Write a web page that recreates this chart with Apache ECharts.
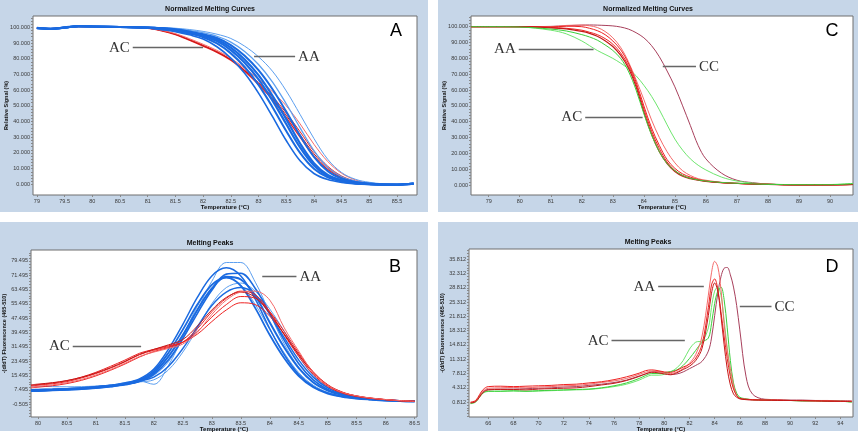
<!DOCTYPE html>
<html>
<head>
<meta charset="utf-8">
<script src="https://cdn.jsdelivr.net/npm/echarts@6/dist/echarts.min.js"></script>
<style>
  html, body { margin: 0; padding: 0; background: #fff; }
  #chart { width: 860px; height: 436px; }
</style>
</head>
<body>
<div id="chart"></div>
<script>
// ---- panel A: normalized melting curves (AA blue, AC red) ----
const tA = [79, 79.25, 79.5, 79.75, 80, 80.5, 81, 81.25, 81.5, 81.75, 82, 82.25, 82.5, 82.75, 83, 83.25, 83.5, 83.75, 84, 84.25, 84.5, 84.75, 85, 85.25, 85.5, 85.8]
const blueA1 = [99.4, 98.9, 99.7, 100.6, 100.5, 100.2, 99.6, 98.5, 97.2, 95.2, 92.6, 87.6, 80.4, 70.7, 58.1, 43.3, 27.9, 15, 6.9, 3, 1.2, 0.3, 0, -0.3, -0.2, 0.4]
const blueA2 = [99.5, 99.1, 99.8, 100.7, 100.5, 100.2, 99.7, 98.9, 97.7, 96, 93.7, 89.7, 83.4, 74.7, 63.3, 49.3, 34, 20, 9.9, 4.4, 1.8, 0.6, 0, -0.2, -0.2, 0.5]
const blueA3 = [99.6, 99.0, 99.9, 100.8, 100.6, 100.2, 99.8, 99.2, 98.2, 96.6, 94.5, 91.2, 85.5, 77.5, 66.9, 53.5, 38.4, 23.5, 12, 5.3, 2.3, 0.8, 0.1, -0.2, -0.2, 0.5]
const blueA4 = [99.5, 99.0, 99.8, 100.7, 100.5, 100.2, 99.8, 99.3, 98.4, 97, 95, 92.3, 87, 79.5, 69.5, 56.5, 41.5, 26, 13.5, 6, 2.6, 1, 0.2, -0.2, -0.2, 0.5]
const blueA5 = [99.5, 99.0, 99.8, 100.6, 100.5, 100.2, 99.8, 99.5, 98.7, 97.4, 95.6, 93.2, 88.7, 81.9, 72.7, 60.7, 46.3, 31, 17.5, 8.4, 3.7, 1.5, 0.5, 0, -0.2, 0.5]
const blueA6 = [99.6, 99.1, 99.8, 100.7, 100.5, 100.3, 99.9, 99.7, 99.1, 98, 96.5, 94.3, 90.6, 84.6, 76.3, 65.3, 51.3, 36, 21.5, 10.8, 4.8, 2.1, 0.8, 0.1, -0.2, 0.5]
const blueA7 = [99.6, 99.1, 99.9, 100.7, 100.6, 100.3, 100, 99.8, 99.4, 98.6, 97.4, 95.6, 92.9, 88, 81.2, 72.1, 59.5, 44.5, 29.2, 15.9, 7.5, 3.2, 1.3, 0.3, -0.1, 0.5]
const redA1 = [99.5, 99.2, 99.8, 100.5, 100.4, 100.2, 99.4, 97.8, 95.3, 91.8, 88, 84, 79, 72, 63.5, 54, 42.5, 30, 18, 9.5, 4.3, 1.6, 0.3, -0.2, -0.2, 0.5]
const redA2 = [99.4, 99.1, 99.8, 100.5, 100.4, 100.2, 99.5, 98, 95.7, 92.3, 88.6, 84.6, 79.6, 72.8, 64.8, 56, 45.5, 33.5, 21, 11.5, 5.3, 2, 0.4, -0.2, -0.2, 0.5]
const redA3 = [99.5, 99.2, 99.8, 100.5, 100.4, 100.2, 99.5, 98.1, 96, 92.8, 89.2, 85.3, 80.4, 73.8, 67, 59, 50, 38.5, 25.5, 14.5, 7, 2.8, 0.6, -0.1, -0.2, 0.5]
const redA4 = [99.5, 99.1, 99.8, 100.5, 100.4, 100.2, 99.4, 97.9, 95.5, 92, 88.3, 84.3, 79.3, 72.4, 64, 55, 44, 31.5, 19.5, 10.5, 4.8, 1.8, 0.3, -0.2, -0.2, 0.5]

// ---- panel B: melting peaks (AA blue, AC red) ----
const tB = [79.88, 80, 80.25, 80.5, 80.75, 81, 81.25, 81.5, 81.75, 82, 82.25, 82.5, 82.75, 83, 83.25, 83.5, 83.75, 84, 84.25, 84.5, 84.75, 85, 85.25, 85.5, 85.75, 86, 86.25, 86.5]
const blueB1 = [7.2, 7.3, 7.6, 8, 8.5, 9.2, 10, 11.2, 13.5, 19, 30, 44, 59, 71, 75.5, 71, 58, 41.5, 27, 16, 9.3, 5.6, 3.7, 2.6, 2, 1.5, 1.2, 1]
const blueB2 = [6.8, 6.9, 7.1, 7.4, 7.8, 8.4, 9.2, 10.3, 12, 15.5, 23, 36, 52, 68, 78.5, 78.5, 67.5, 50, 33, 20, 11.8, 7, 4.5, 3, 2.2, 1.6, 1.2, 1]
const blueB3 = [7, 7.1, 7.3, 7.6, 8, 8.6, 9.4, 10.5, 12.5, 17, 26, 38, 52, 64, 70.5, 69, 60, 45, 31, 19.5, 11.5, 7, 4.5, 3, 2.2, 1.6, 1.2, 1]
const blueB4 = [7.5, 7.6, 7.8, 8.1, 8.5, 9, 9.8, 10.8, 12.3, 14.5, 20.5, 30.5, 42.5, 54.5, 62, 64.5, 60.5, 49.5, 36.5, 24, 14.5, 8.5, 5.2, 3.4, 2.4, 1.7, 1.3, 1]
const blueB5 = [6.6, 6.7, 7, 7.3, 7.7, 8.3, 9.1, 10.2, 12, 16, 24, 36, 50, 63, 72, 72.5, 64, 50, 35, 22, 13, 7.6, 4.8, 3.2, 2.3, 1.7, 1.3, 1]
const blueB6 = [7, 7.1, 7.3, 7.6, 8.1, 8.8, 9.8, 11.5, 12.3, 10.5, 21, 37, 54, 66, 70, 66, 55, 41, 28, 17, 10, 6, 4, 2.8, 2.1, 1.6, 1.2, 1]
const blueB7 = [9.5, 9.4, 9.2, 9.1, 9.2, 9.5, 10, 10.8, 11.8, 13, 18.5, 28.5, 41.5, 55.5, 64.5, 67, 62.5, 52.5, 40, 26, 15.5, 8.8, 5.2, 3.4, 2.4, 1.7, 1.3, 1]
const blueB8 = [7.3, 7.4, 7.6, 7.9, 8.3, 8.9, 9.7, 10.9, 13, 18, 28, 41, 55, 66, 70, 65.5, 53, 38, 25, 15, 8.8, 5.3, 3.5, 2.5, 1.9, 1.4, 1.1, 0.9]
const redB1 = [9.5, 10, 10.8, 12, 14, 16.5, 19.5, 23, 27, 29.5, 31.5, 34, 40, 48, 55, 59.5, 58.5, 51, 40, 28, 17.5, 10.3, 6.2, 4, 2.8, 2, 1.4, 1]
const redB2 = [8.5, 8.9, 9.7, 10.9, 12.7, 15.2, 18.3, 21.8, 25.7, 28.8, 31, 34, 41.5, 51, 58.5, 62.5, 60.5, 51, 38, 26, 16, 9.3, 5.6, 3.7, 2.6, 1.9, 1.3, 1]
const redB3 = [9.8, 10.3, 11.2, 12.5, 14.5, 17.2, 20.5, 24, 27.8, 30, 32, 34, 38.5, 45.5, 52, 56, 55, 48.5, 38.5, 27, 17, 10, 6, 3.9, 2.7, 1.9, 1.3, 1]
const redB4 = [9, 9.4, 10.2, 11.4, 13.2, 15.7, 18.7, 22.2, 26, 28.5, 30.5, 33, 39.5, 49.5, 57.5, 62, 62.5, 57.5, 42, 29, 17, 10, 6, 4, 2.8, 2, 1.4, 1]
const redB5 = [10.2, 10.6, 11.4, 12.6, 14.4, 16.8, 19.8, 23.3, 27.2, 30, 32.5, 35.5, 43, 52, 59, 62, 59, 50, 38.5, 27, 17, 10, 6, 3.9, 2.7, 1.9, 1.3, 1]

// ---- panel C: normalized melting curves (AA green, AC red, CC maroon) ----
const tC = [78.43, 79, 80, 81, 81.5, 82, 82.25, 82.5, 82.75, 83, 83.25, 83.5, 83.75, 84, 84.25, 84.5, 84.75, 85, 85.25, 85.5, 85.75, 86, 86.5, 87, 87.5, 88, 89, 90, 90.74]
const ccC = [100, 100, 100, 100.2, 100.6, 101, 101.1, 101, 100.8, 100.5, 99.8, 98.5, 96.2, 93, 88, 81, 72, 62, 50, 37.5, 25, 16.5, 7.5, 3, 1.5, 0.6, 0.1, 0.1, 0.3]
const redC1 = [100, 100, 100, 99.3, 98.6, 97, 95.8, 94, 91.2, 87.5, 82, 74, 62, 46, 32, 21, 13.5, 8.5, 5.5, 4, 3, 2.3, 1.5, 1, 0.6, 0.4, 0.1, 0.1, 0.3]
const redC2 = [100, 100, 100, 99.8, 100.3, 100, 99, 97.5, 95, 91, 85.5, 77, 65, 50, 36, 25, 16, 10.5, 7, 5, 3.5, 2.5, 1.5, 1, 0.6, 0.4, 0.1, 0.1, 0.3]
const redC3 = [100, 100, 100, 100, 100.8, 101, 100.6, 99.5, 97, 93, 87, 78, 66.5, 54, 41, 30, 21, 14, 9, 6, 4, 3, 1.7, 1, 0.6, 0.4, 0.1, 0.1, 0.3]
const redC4 = [100, 100, 100, 99.5, 99, 97.8, 96.5, 95, 92.5, 89, 83.5, 75.5, 63.5, 48, 34, 23, 14.5, 9.2, 6, 4.3, 3.2, 2.4, 1.5, 1, 0.6, 0.4, 0.1, 0.1, 0.3]
const greenC1 = [100, 100, 99.8, 97.8, 95.5, 91, 88, 85, 82.5, 80, 77, 73.5, 69, 63, 56, 47.5, 38, 29, 22, 16.5, 12.5, 9.5, 5, 2.5, 1.2, 0.6, 0.2, 0.3, 1.0]
const greenC2 = [100, 100, 99.8, 98.5, 97.3, 95, 93.5, 91.5, 88.5, 85, 80, 72, 60, 45, 31.5, 21, 13.5, 9, 6, 4.2, 3.2, 2.5, 1.6, 1.1, 0.7, 0.4, 0.2, 0.2, 0.8]

// ---- panel D: melting peaks (AA green, AC red, CC maroon) ----
const tD = [64.6, 65, 65.3, 65.6, 66, 67, 68, 69, 70, 71, 72, 73, 74, 75, 76, 77, 78, 78.5, 79, 79.5, 80, 80.5, 81, 81.5, 82, 82.5, 83, 83.5, 83.75, 84, 84.25, 84.5, 84.75, 85, 85.25, 85.5, 85.75, 86, 86.5, 87, 88, 89, 90, 91, 92, 93, 94, 94.9]
const redD1 = [0.7, 1.0, 2.2, 3.5, 4.2, 4.3, 4.4, 4.3, 4.5, 4.6, 4.8, 4.9, 5.2, 5.6, 6.0, 6.6, 7.6, 8.1, 8.4, 8.3, 8.0, 7.8, 8.2, 9.0, 10.3, 12.5, 17, 27, 32.5, 35.3, 34, 28.5, 20, 13.5, 9, 5, 2.5, 1.7, 1.5, 1.4, 1.3, 1.3, 1.2, 1.2, 1.1, 1.1, 1.0, 1.0]
const redD2 = [0.8, 1.2, 2.6, 3.9, 4.6, 4.7, 4.6, 4.7, 4.8, 4.9, 5.1, 5.2, 5.5, 5.8, 6.3, 7.0, 7.9, 8.5, 8.7, 8.5, 8.2, 8.1, 8.6, 9.4, 10.1, 11.6, 15, 24, 29.5, 31, 28.5, 23, 17, 11.5, 7, 4, 2.4, 1.7, 1.5, 1.4, 1.3, 1.3, 1.2, 1.2, 1.1, 1.1, 1.0, 1.0]
const redD3 = [0.6, 0.9, 2.0, 3.2, 3.8, 3.9, 3.9, 3.8, 4.0, 4.1, 4.2, 4.3, 4.6, 5.0, 5.4, 6.1, 7.1, 7.7, 8.1, 8.0, 7.7, 7.5, 8.0, 8.8, 9.6, 11, 14, 22, 27.5, 30, 28, 22, 15, 9, 5, 2.8, 2.0, 1.6, 1.4, 1.3, 1.3, 1.2, 1.2, 1.1, 1.1, 1.0, 1.0, 0.9]
const greenD1 = [0.4, 0.8, 2.0, 3.0, 3.4, 3.4, 3.5, 3.4, 3.5, 3.6, 3.7, 3.8, 3.9, 4.2, 4.6, 5.2, 6.2, 6.9, 7.4, 7.4, 7.6, 8.2, 9.2, 11, 13.8, 15.5, 15.8, 19, 24, 28, 29, 27, 21, 14, 8, 4.3, 2.5, 1.8, 1.5, 1.4, 1.3, 1.2, 1.2, 1.1, 1.1, 1.0, 1.0, 0.8]
const greenD2 = [0.5, 0.9, 2.1, 3.1, 3.5, 3.5, 3.6, 3.5, 3.6, 3.7, 3.8, 3.9, 4.0, 4.3, 4.8, 5.5, 6.6, 7.3, 7.8, 7.8, 8.0, 8.3, 8.7, 9.8, 11.5, 13.5, 15.5, 16.5, 20, 25, 28, 29, 26, 19, 11, 5.5, 3, 2, 1.6, 1.4, 1.3, 1.2, 1.2, 1.1, 1.1, 1.0, 1.0, 0.8]
const ccD = [0.6, 1.0, 2.3, 3.4, 3.9, 4.0, 4.0, 4.1, 4.2, 4.3, 4.5, 4.6, 4.9, 5.2, 5.6, 6.2, 7.2, 7.7, 8.2, 8.3, 8.0, 7.6, 7.7, 8.2, 9.0, 9.8, 10.8, 13.3, 16.5, 22, 27.5, 31.5, 33.6, 33.8, 32, 29, 24.5, 18.5, 7, 2.8, 1.5, 1.4, 1.3, 1.3, 1.2, 1.2, 1.1, 1.1]

// tick labels
const xTicksA = [79, 79.5, 80, 80.5, 81, 81.5, 82, 82.5, 83, 83.5, 84, 84.5, 85, 85.5]
const xTicksB = [80, 80.5, 81, 81.5, 82, 82.5, 83, 83.5, 84, 84.5, 85, 85.5, 86, 86.5]
const xTicksC = [79, 80, 81, 82, 83, 84, 85, 86, 87, 88, 89, 90]
const xTicksD = [66, 68, 70, 72, 74, 76, 78, 80, 82, 84, 86, 88, 90, 92, 94]
const yTicksAC = [0, 10, 20, 30, 40, 50, 60, 70, 80, 90, 100]
const yTicksB = [-0.505, 7.495, 15.495, 23.495, 31.495, 39.495, 47.495, 55.495, 63.495, 71.495, 79.495]
const yTicksD = [0.812, 4.312, 7.812, 11.312, 14.812, 18.312, 21.812, 25.312, 28.812, 32.312, 35.812]

const BLUE = '#1a6ae0'
const BLUE_L = '#5c9ff0'
const RED = '#ee2222'
const RED_L = '#f56a6a'
const RED_D = '#c41818'
const GREEN = '#3ccf3c'
const GREEN_L = '#6ee66e'
const MAROON = '#a8405c'
const PANEL_BG = '#c6d6e8'

const chart = echarts.init(document.getElementById('chart'))

const line = (temps, vals, idx, color, width) => ({
  type: 'line',
  xAxisIndex: idx,
  yAxisIndex: idx,
  data: temps.map((t, i) => [t, vals[i]]),
  showSymbol: false,
  smooth: 0.35,
  silent: true,
  lineStyle: { color: color, width: width || 1 },
  z: 3
})

// annotation line with its label (AA / AC / CC)
const note = (text, x1, x2, y, pos) => [
  {
    coord: [x1, y],
    label: {
      show: true,
      formatter: text,
      position: pos,
      distance: 3,
      fontFamily: 'Liberation Serif',
      fontSize: 15,
      color: '#333'
    }
  },
  { coord: [x2, y] }
]
const notes = (items) => ({
  symbol: 'none',
  silent: true,
  animation: false,
  lineStyle: { color: '#666', width: 1.3, type: 'solid' },
  data: items
})

const tickFont = {
  fontFamily: 'Liberation Sans, sans-serif',
  fontSize: 5.5,
  color: '#3a3a3a'
}
const nameFont = {
  fontFamily: 'Liberation Sans, sans-serif',
  fontWeight: 'bold',
  fontSize: 6,
  color: '#111'
}

const xAxisFor = (idx, min, max, ticks) => ({
  type: 'value',
  gridIndex: idx,
  min: min,
  max: max,
  name: 'Temperature (°C)',
  nameLocation: 'middle',
  nameGap: 9,
  nameMoveOverlap: false,
  nameTextStyle: nameFont,
  axisLine: { show: false, onZero: false },
  splitLine: { show: false },
  axisTick: { customValues: ticks, length: 2, lineStyle: { color: '#888' } },
  axisLabel: Object.assign({ customValues: ticks, margin: 3 }, tickFont)
})

const yAxisFor = (idx, min, max, ticks, name, minor) => ({
  type: 'value',
  gridIndex: idx,
  min: min,
  max: max,
  name: name,
  nameLocation: 'middle',
  nameGap: 24,
  nameMoveOverlap: false,
  nameTextStyle: Object.assign({}, nameFont, { fontSize: 5.5 }),
  axisLine: { show: false, onZero: false },
  splitLine: { show: false },
  axisTick: { customValues: minor, length: 2, lineStyle: { color: '#888' } },
  axisLabel: Object.assign({ customValues: ticks, margin: 3, formatter: (v) => v.toFixed(3) }, tickFont)
})

const minorAC = []
for (let v = 0; v <= 106; v += 2) minorAC.push(v)
const minorB = []
for (let v = -7.305; v <= 85; v += 1.6) minorB.push(+v.toFixed(3))
const minorD = []
for (let v = -2.688; v <= 38; v += 0.7) minorD.push(+v.toFixed(3))

const gridStyle = {
  show: true,
  backgroundColor: '#fff',
  borderColor: '#6e6e6e',
  borderWidth: 1,
  containLabel: false,
  outerBoundsMode: 'none'
}

const bigLetter = (text, x, y) => ({
  type: 'text', z: 100, x: x, y: y,
  style: { text: text, fontFamily: 'Liberation Sans', fontSize: 18, fill: '#000', align: 'center', verticalAlign: 'middle' }
})
const panelTitle = (text, x, y) => ({
  type: 'text', z: 100, x: x, y: y,
  style: { text: text, fontFamily: 'Liberation Sans', fontWeight: 'bold', fontSize: 7, fill: '#111', align: 'center', verticalAlign: 'middle' }
})
const panelBg = (x, y, w, h) => ({
  type: 'rect', z: -10, shape: { x: x, y: y, width: w, height: h },
  style: { fill: PANEL_BG }
})

// reds first so that the blue AA band lies over them, as in the original
const seriesA = [
  line(tA, redA1, 0, RED, 1.3),
  line(tA, redA2, 0, RED, 1),
  line(tA, redA4, 0, RED_D, 1),
  line(tA, redA3, 0, RED_L, 1),
  line(tA, blueA7, 0, BLUE_L, 1),
  line(tA, blueA6, 0, BLUE_L, 1.3),
  line(tA, blueA5, 0, BLUE, 2),
  line(tA, blueA4, 0, BLUE, 2.2),
  line(tA, blueA3, 0, BLUE, 2.2),
  line(tA, blueA2, 0, BLUE, 2),
  line(tA, blueA1, 0, BLUE, 1.6)
]
seriesA[0].markLine = notes([
  note('AC', 80.73, 82.0, 87, 'start'),
  note('AA', 82.92, 83.66, 81.3, 'end')
])

const seriesB = [
  line(tB, blueB2, 1, BLUE_L, 1),
  line(tB, blueB7, 1, BLUE_L, 1),
  line(tB, blueB6, 1, BLUE_L, 1),
  line(tB, blueB4, 1, BLUE, 1.4),
  line(tB, blueB5, 1, BLUE, 1.6),
  line(tB, blueB3, 1, BLUE, 2),
  line(tB, blueB8, 1, BLUE, 1.8),
  line(tB, blueB1, 1, BLUE, 1.5),
  line(tB, redB1, 1, RED, 1),
  line(tB, redB2, 1, RED, 1),
  line(tB, redB3, 1, RED, 1),
  line(tB, redB5, 1, RED_D, 1),
  line(tB, redB4, 1, RED_L, 1)
]
seriesB[0].markLine = notes([
  note('AC', 80.6, 81.78, 31.7, 'start'),
  note('AA', 83.87, 84.46, 70.6, 'end')
])

const seriesC = [
  line(tC, ccC, 2, MAROON, 1),
  line(tC, greenC1, 2, GREEN_L, 1),
  line(tC, redC3, 2, RED_L, 1),
  line(tC, redC2, 2, RED, 1),
  line(tC, redC4, 2, RED, 1),
  line(tC, redC1, 2, RED_D, 1.2),
  line(tC, greenC2, 2, GREEN, 1)
]
seriesC[0].markLine = notes([
  note('AA', 79.97, 82.38, 85.7, 'start'),
  note('CC', 84.61, 85.68, 74.7, 'end'),
  note('AC', 82.11, 83.96, 43.1, 'start')
])

const seriesD = [
  line(tD, ccD, 3, MAROON, 1),
  line(tD, greenD1, 3, GREEN_L, 1),
  line(tD, greenD2, 3, GREEN, 1),
  line(tD, redD1, 3, RED_L, 1),
  line(tD, redD2, 3, RED, 1),
  line(tD, redD3, 3, RED_D, 1)
]
seriesD[0].markLine = notes([
  note('AA', 79.51, 83.14, 29.1, 'start'),
  note('AC', 75.8, 81.63, 15.85, 'start'),
  note('CC', 86.0, 88.52, 24.2, 'end')
])

chart.setOption({
  animation: false,
  grid: [
    Object.assign({ left: 33, top: 16, width: 384, height: 179 }, gridStyle),
    Object.assign({ left: 31, top: 250, width: 386, height: 167 }, gridStyle),
    Object.assign({ left: 471, top: 16, width: 382, height: 179 }, gridStyle),
    Object.assign({ left: 469, top: 249, width: 384, height: 168 }, gridStyle)
  ],
  xAxis: [
    xAxisFor(0, 78.93, 85.86, xTicksA),
    xAxisFor(1, 79.88, 86.54, xTicksB),
    xAxisFor(2, 78.43, 90.74, xTicksC),
    xAxisFor(3, 64.47, 95.0, xTicksD)
  ],
  yAxis: [
    yAxisFor(0, -6.8, 107.2, yTicksAC, 'Relative Signal (%)', minorAC),
    yAxisFor(1, -7.76, 85.47, yTicksB, '-(d/dT) Fluorescence (465-510)', minorB),
    yAxisFor(2, -6.32, 106.76, yTicksAC, 'Relative Signal (%)', minorAC),
    yAxisFor(3, -2.85, 38.33, yTicksD, '-(d/dT) Fluorescence (465-510)', minorD)
  ],
  graphic: [
    panelBg(0, 0, 428, 212),
    panelBg(438, 0, 420, 212),
    panelBg(0, 222, 428, 209),
    panelBg(438, 222, 420, 209),
    panelTitle('Normalized Melting Curves', 210, 9.5),
    panelTitle('Normalized Melting Curves', 648, 9.5),
    panelTitle('Melting Peaks', 210, 243.5),
    panelTitle('Melting Peaks', 648, 242.5),
    bigLetter('A', 396, 31),
    bigLetter('C', 832, 31),
    bigLetter('B', 395, 267),
    bigLetter('D', 832, 267)
  ],
  series: [].concat(seriesA, seriesB, seriesC, seriesD)
})
</script>
</body>
</html>
